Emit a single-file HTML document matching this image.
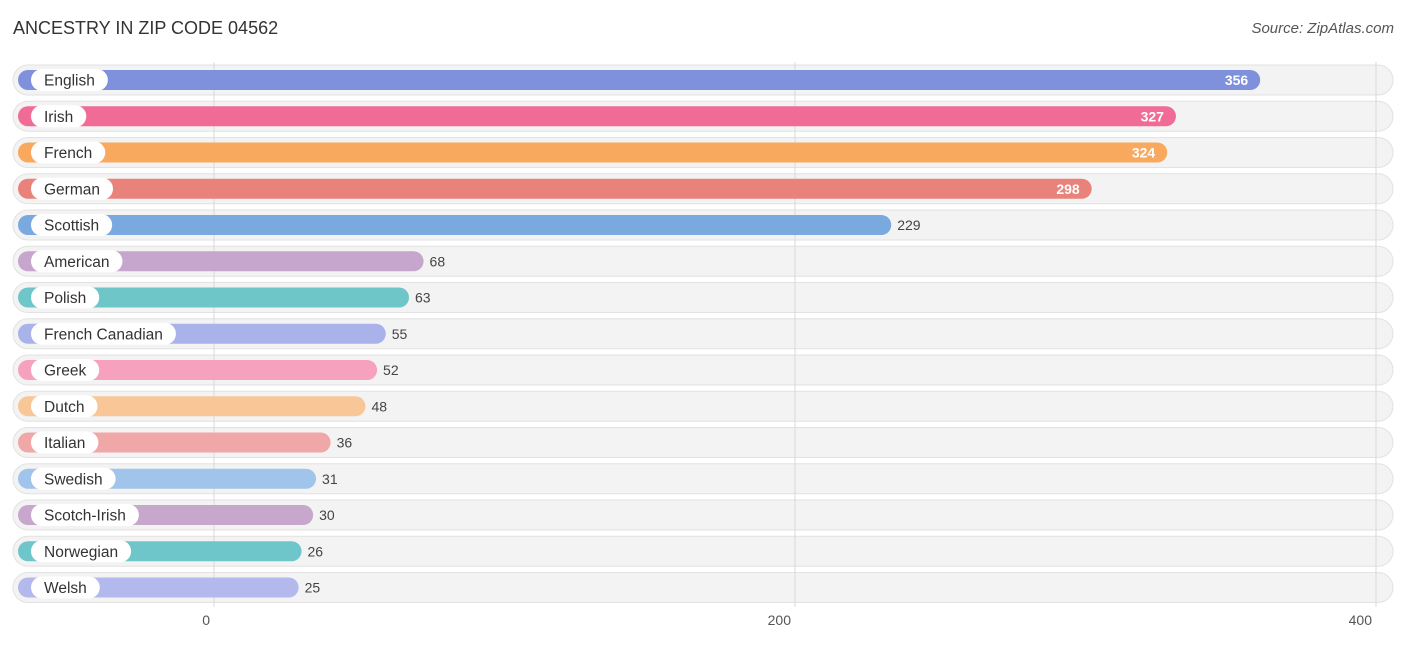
<!DOCTYPE html>
<html><head><meta charset="utf-8"><style>
body{margin:0;background:#fff;font-family:"Liberation Sans",sans-serif;}
svg text{font-family:"Liberation Sans",sans-serif;}
</style></head><body>
<svg id="c" width="1406" height="644">
<text x="13" y="34" font-size="18" fill="#333">ANCESTRY IN ZIP CODE 04562</text>
<text x="1394" y="33" font-size="15" fill="#555" font-style="italic" text-anchor="end">Source: ZipAtlas.com</text>
<g id="tracks"></g><g id="grid"></g><g id="rows"></g><g id="ticks"></g>
</svg>
<script>
const categories=["English","Irish","French","German","Scottish","American","Polish","French Canadian","Greek","Dutch","Italian","Swedish","Scotch-Irish","Norwegian","Welsh"];
const values=[356,327,324,298,229,68,63,55,52,48,36,31,30,26,25];
const colors=["#7f91dc","#f06b96","#f8a95e","#e8827a","#7aa9e0","#c6a6cc","#6ec6c9","#a9b3ea","#f6a1bd","#f9c797","#efa8a7","#a0c4ea","#c8a7cc","#6ec6ca","#b3b9ec"];
const tickVals=[0,200,400];
const ns="http://www.w3.org/2000/svg";
const x=v=>214+v*2.905;
const rowY=i=>80+i*36.25;
function mk(t,a,p){const e=document.createElementNS(ns,t);for(const k in a)e.setAttribute(k,a[k]);p.appendChild(e);return e;}
const tracks=document.getElementById('tracks'),grid=document.getElementById('grid'),rows=document.getElementById('rows'),ticks=document.getElementById('ticks');
tickVals.forEach(t=>{
 const l=mk('line',{x1:x(t),x2:x(t),y1:62,y2:607,stroke:'#d8d8d8','stroke-width':1},grid);
 
 
 const tx=mk('text',{x:x(t)-4,y:625,'font-size':14,fill:'#555','text-anchor':'end'},ticks);
 tx.textContent=t;
 
 
});
categories.forEach((c,i)=>{
 const y=rowY(i);
 const tr=mk('rect',{x:13,y:y-15,width:1380,height:30,rx:15,fill:'#f3f3f3',stroke:'#e2e2e2'},tracks);
 
 
 const g=mk('g',{},rows);
 
 
 const end=x(values[i])+12;
 const b=mk('rect',{x:18,y:y-10,width:end-18,height:20,rx:10,fill:colors[i]},g);
 
 
 const lt=mk('text',{x:44,y:y+5.5,'font-size':15.5,fill:'#333'},g);
 lt.textContent=c;
 const lw=lt.getComputedTextLength()+26;
 const pill=mk('rect',{x:31,y:y-11,width:lw,height:22,rx:11,fill:'#fff'},g);
 g.insertBefore(pill,lt);
 
 
 const inside=values[i]>250;
 const vt=mk('text',{x:inside?end-12:end+6,y:y+5,'font-size':14,fill:inside?'#fff':'#444','text-anchor':inside?'end':'start','font-weight':inside?'bold':'normal'},g);
 vt.textContent=values[i];
 
 
});
</script>
</body></html>
